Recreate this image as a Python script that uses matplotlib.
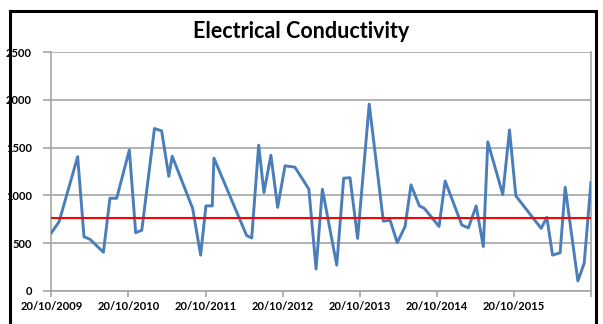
import datetime
import matplotlib
matplotlib.use('Agg')
import matplotlib.pyplot as plt
import matplotlib.dates as mdates
from matplotlib.patches import Rectangle

# Sample dates and readings
dates = ['2009-10-20', '2009-11-25', '2010-02-21', '2010-03-23', '2010-04-21',
         '2010-06-23', '2010-07-24', '2010-08-25', '2010-10-24', '2010-11-23',
         '2010-12-22', '2011-02-20', '2011-03-26', '2011-04-29', '2011-05-15',
         '2011-08-20', '2011-09-27', '2011-10-22', '2011-11-21', '2011-11-29',
         '2012-05-02', '2012-05-26', '2012-06-28', '2012-07-23', '2012-08-25',
         '2012-09-26', '2012-10-31', '2012-12-17', '2013-02-21', '2013-03-27',
         '2013-04-26', '2013-07-03', '2013-08-05', '2013-09-04', '2013-10-10',
         '2013-12-04', '2014-02-09', '2014-03-13', '2014-04-16', '2014-05-23',
         '2014-06-20', '2014-07-30', '2014-08-22', '2014-10-31', '2014-11-29',
         '2015-02-16', '2015-03-19', '2015-04-25', '2015-05-29', '2015-06-19',
         '2015-08-29', '2015-09-30', '2015-10-30', '2016-02-27', '2016-03-25',
         '2016-04-21', '2016-05-27', '2016-06-20', '2016-08-19', '2016-09-18',
         '2016-10-20']
conductivity = [610, 725, 1405, 568, 540,
                405, 970, 970, 1475, 610,
                635, 1700, 1675, 1200, 1410,
                865, 375, 890, 890, 1390,
                580, 555, 1525, 1030, 1420,
                875, 1310, 1295, 1065, 230,
                1065, 270, 1180, 1185, 550,
                1955, 730, 740, 505, 675,
                1110, 890, 865, 675, 1150,
                690, 660, 890, 465, 1560,
                1010, 1685, 995, 655, 770,
                375, 400, 1085, 105, 290,
                1135]
guideline = 760
tick_years = [2009, 2010, 2011, 2012, 2013, 2014, 2015, 2016]
y_ticks = [0, 500, 1000, 1500, 2000, 2500]

dates = [datetime.datetime.strptime(d, '%Y-%m-%d') for d in dates]
ticks = [datetime.datetime(y, 10, 20) for y in tick_years]
labels = [t.strftime('%d/%m/%Y') for t in ticks[:-1]] + ['']

plt.rcParams['font.family'] = ['Lato', 'DejaVu Sans']

fig = plt.figure(figsize=(6.03, 3.24), dpi=100)
ax = fig.add_axes([0.0854, 0.1019, 0.8946, 0.7376])

# black frame round the whole chart, cropped at the bottom
fig.patches.append(Rectangle((0.016, -0.05), 0.972, 1.017, transform=fig.transFigure,
                             fill=False, edgecolor='black', linewidth=2.2))

ax.plot(dates, conductivity, color='#4a7ebb', linewidth=2.1, zorder=3)
ax.axhline(guideline, color='#ff0000', linewidth=1.5, zorder=4)

ax.set_xlim(ticks[0], ticks[-1])
ax.set_ylim(0, 2500)
ax.set_xticks(ticks)
ax.set_xticklabels(labels)
ax.set_yticks(y_ticks)

ax.grid(axis='y', color='#a6a6a6', linewidth=1.2)
ax.set_axisbelow(True)
for side in ['left', 'bottom', 'right']:
    ax.spines[side].set_color('#a6a6a6')
    ax.spines[side].set_linewidth(1.2)
ax.spines['top'].set_visible(False)
ax.tick_params(axis='y', length=6, color='#a6a6a6', width=1.2, pad=8, labelsize=8)
ax.tick_params(axis='x', length=4, color='#a6a6a6', width=1.2, pad=3, labelsize=8)
for lab in ax.get_xticklabels() + ax.get_yticklabels():
    lab.set_fontweight('bold')

fig.suptitle('Electrical Conductivity', fontsize=15.5, fontweight='bold', y=0.935)

fig.savefig('out.png', dpi=100)
